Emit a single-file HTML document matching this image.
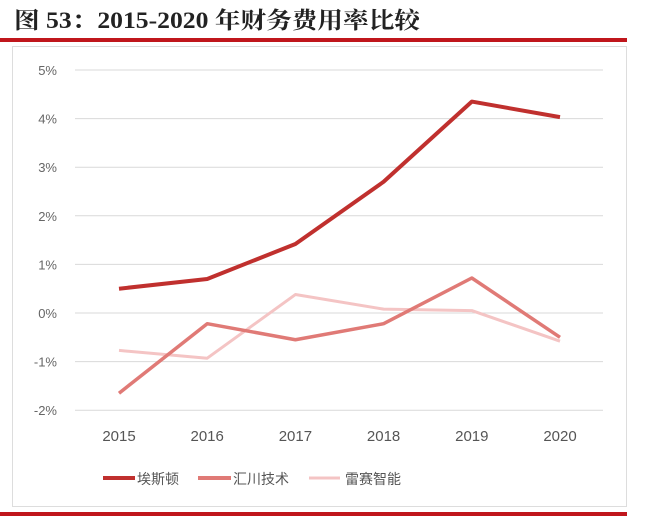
<!DOCTYPE html>
<html><head><meta charset="utf-8"><style>
body{margin:0;background:#fff;width:672px;height:524px;overflow:hidden;font-family:"Liberation Sans","Noto Sans CJK SC",sans-serif}
</style></head><body>
<svg width="672" height="524" xmlns="http://www.w3.org/2000/svg">
<text x="14" y="28" font-family="'Liberation Serif','Noto Serif CJK SC',serif" font-size="23" font-weight="bold" fill="#222" textLength="406" lengthAdjust="spacingAndGlyphs">图  53：2015-2020 年财务费用率比较</text>
<rect x="0" y="38" width="627" height="4" fill="#c0161c"/>
<rect x="12.5" y="46.5" width="614" height="460" fill="#fff" stroke="#ddd"/>
<rect x="0" y="512" width="627" height="4" fill="#c0161c"/>
<g id="grid"></g><g id="lines"></g>
<g font-size="14" fill="#555">
<line x1="103" y1="478" x2="135" y2="478" stroke="#c0302e" stroke-width="4"/><text x="137" y="484">埃斯顿</text>
<line x1="198" y1="478" x2="231" y2="478" stroke="#e07a76" stroke-width="4"/><text x="233" y="484">汇川技术</text>
<line x1="309" y1="478" x2="340" y2="478" stroke="#f4c4c4" stroke-width="3"/><text x="345" y="484">雷赛智能</text>
</g>
</svg>
<script>
const categories=['2015','2016','2017','2018','2019','2020'];
const yTicks=[5,4,3,2,1,0,-1,-2];
const estun=[0.5,0.7,1.42,2.7,4.35,4.03];
const inovance=[-1.65,-0.22,-0.55,-0.22,0.72,-0.5];
const leadshine=[-0.77,-0.93,0.38,0.08,0.05,-0.58];
const NS='http://www.w3.org/2000/svg';
const x=i=>119+i*88.2;
const y=v=>313-v*48.6;
const g=document.getElementById('grid'),L=document.getElementById('lines');
yTicks.forEach(t=>{
 const l=document.createElementNS(NS,'line');
 l.setAttribute('x1',75);l.setAttribute('x2',603);l.setAttribute('y1',y(t));l.setAttribute('y2',y(t));
 l.setAttribute('stroke','#d9d9d9');
 
 
 g.appendChild(l);
 const tx=document.createElementNS(NS,'text');
 tx.setAttribute('x',57);tx.setAttribute('y',y(t)+5);tx.setAttribute('text-anchor','end');
 tx.setAttribute('font-size','13');tx.setAttribute('fill','#666');tx.textContent=t+'%';
 
 
 g.appendChild(tx);
});
categories.forEach((c,i)=>{
 const tx=document.createElementNS(NS,'text');
 tx.setAttribute('x',x(i));tx.setAttribute('y',441);tx.setAttribute('text-anchor','middle');
 tx.setAttribute('font-size','15');tx.setAttribute('fill','#555');tx.textContent=c;
 
 
 g.appendChild(tx);
});
[[leadshine,'#f4c4c4',3,'series-leadshine'],[inovance,'#e07a76',3.5,'series-inovance'],[estun,'#c0302e',4,'series-estun']].forEach(([d,c,w,n])=>{
 const p=document.createElementNS(NS,'polyline');
 p.setAttribute('points',d.map((v,i)=>x(i)+','+y(v)).join(' '));
 p.setAttribute('fill','none');p.setAttribute('stroke',c);p.setAttribute('stroke-width',w);
 p.setAttribute('stroke-linejoin','round');
 
 
 L.appendChild(p);
});
</script>
</body></html>
